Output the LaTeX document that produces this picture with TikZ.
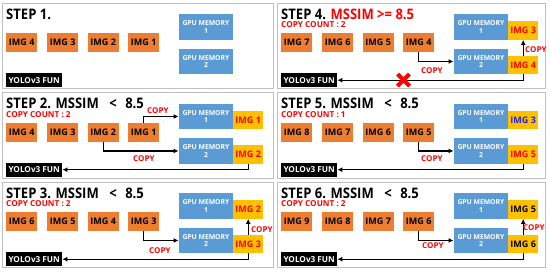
\documentclass[tikz,border=0pt]{standalone}
\usepackage{fontspec}
\setmainfont{Open Sans}
\newfontfamily\steptitlefont{Open Sans}[FakeStretch=0.9]
\usetikzlibrary{arrows.meta}
\definecolor{boxorange}{HTML}{ED7D31}
\definecolor{boxblue}{HTML}{5B9BD5}
\definecolor{boxyellow}{HTML}{FFC000}
\definecolor{txtred}{HTML}{FF0000}
\definecolor{txtblue}{HTML}{1F1FE0}
\definecolor{panelgray}{HTML}{BFBFBF}
\tikzset{
 panelframe/.style={draw=panelgray, line width=0.8pt},
 imgbox/.style={fill=boxorange, anchor=north west, minimum width=31pt, minimum height=19pt, inner sep=0pt, font=\fontsize{9}{10}\selectfont\bfseries},
 gpubox/.style={fill=boxblue, anchor=north west, minimum width=54.5pt, minimum height=25.5pt, inner sep=0pt, text=white, align=center, font=\fontsize{6.8}{7.6}\selectfont\bfseries},
 yelbox/.style={fill=boxyellow, anchor=north west, minimum width=30pt, minimum height=18.5pt, inner sep=0pt, font=\fontsize{9}{10}\selectfont\bfseries},
 yolonode/.style={fill=black, text=white, anchor=north west, minimum width=56pt, minimum height=14pt, inner sep=0pt, font=\fontsize{8.2}{9}\selectfont\bfseries},
 titletext/.style={anchor=base west, inner sep=0pt, font=\fontsize{14.5}{15}\steptitlefont\bfseries},
 counttext/.style={anchor=base west, inner sep=0pt, text=txtred, font=\fontsize{8.2}{9}\selectfont\bfseries},
 copytext/.style={anchor=base west, inner sep=0pt, text=txtred, font=\fontsize{8}{9}\selectfont\bfseries},
 flow/.style={line width=1.2pt, -{Latex[length=5pt,width=5pt]}},
 crossmark/.style={line width=4pt, draw=txtred},
}
\newcommand\lessgap{MSSIM\hspace{10.5pt}<\hspace{8.5pt}8.5}
% #1 prefix, #2-#5 labels
\newcommand\imgrow[5]{%
 \node[imgbox] (#1i1) at (4,30) {#2};
 \node[imgbox] (#1i2) at (45,30) {#3};
 \node[imgbox] (#1i3) at (85.5,30) {#4};
 \node[imgbox] (#1i4) at (126,30) {#5};
 \node[gpubox] (#1g1) at (176.5,11) {GPU MEMORY\\1};
 \node[gpubox] (#1g2) at (176.5,45.5) {GPU MEMORY\\2};
 \node[yolonode] (#1yolo) at (4,70) {YOLOv3 FUN};
}
% #1 prefix, #2 colour1, #3 label1, #4 colour2, #5 label2
\newcommand\yelpair[5]{%
 \node[yelbox, text=#2] (#1y1) at (231,18) {#3};
 \node[yelbox, text=#4] (#1y2) at (231,52.5) {#5};
}
\begin{document}
\begin{tikzpicture}[x=1pt,y=-1pt]
\path[fill=white] (0,0) rectangle (550,271);
\useasboundingbox (0,0) rectangle (550,271);

% ---------- STEP 1 ----------
\begin{scope}[shift={(2,3)}]
 \draw[panelframe] (0,0) rectangle (271,85.5);
 \node[titletext] (p1t) at (4,16) {STEP 1.};
 \imgrow{p1}{IMG 4}{IMG 3}{IMG 2}{IMG 1}
\end{scope}

% ---------- STEP 2 ----------
\begin{scope}[shift={(2,92.5)}]
 \draw[panelframe] (0,0) rectangle (271,85.5);
 \node[titletext] (p2t) at (4,16) {STEP 2. \lessgap};
 \node[counttext] (p2c) at (4,24.5) {COPY COUNT : 2};
 \imgrow{p2}{IMG 4}{IMG 3}{IMG 2}{IMG 1}
 \yelpair{p2}{txtred}{IMG 1}{txtred}{IMG 2}
 \draw[flow] (p2i4.north) |- (p2g1.west);
 \draw[flow] (p2i3.south) |- (p2g2.west);
 \draw[flow] (p2y2.south) |- (p2yolo.east);
 \node[copytext] (p2l1) at (145,20.5) {COPY};
 \node[copytext] (p2l2) at (131,68.5) {COPY};
\end{scope}

% ---------- STEP 3 ----------
\begin{scope}[shift={(2,182)}]
 \draw[panelframe] (0,0) rectangle (271,85.5);
 \node[titletext] (p3t) at (4,16) {STEP 3. \lessgap};
 \node[counttext] (p3c) at (4,24.5) {COPY COUNT : 2};
 \imgrow{p3}{IMG 6}{IMG 5}{IMG 4}{IMG 3}
 \yelpair{p3}{txtred}{IMG 2}{txtred}{IMG 3}
 \draw[flow] (p3i4.south) |- (p3g2.west);
 \draw[flow] (p3y2.north) -- (p3y1.south);
 \draw[flow] (p3y2.south) |- (p3yolo.east);
 \node[copytext] (p3l1) at (147,71) {COPY};
 \node[copytext] (p3l2) at (249,50) {COPY};
\end{scope}

% ---------- STEP 4 ----------
\begin{scope}[shift={(277,3)}]
 \draw[panelframe] (0,0) rectangle (268,85.5);
 \node[titletext] (p4t) at (4,16) {STEP 4. \textcolor{txtred}{MSSIM >= 8.5}};
 \node[counttext] (p4c) at (4,24.5) {COPY COUNT : 2};
 \imgrow{p4}{IMG 7}{IMG 6}{IMG 5}{IMG 4}
 \yelpair{p4}{txtred}{IMG 3}{txtred}{IMG 4}
 \draw[flow] (p4i4.south) |- (p4g2.west);
 \draw[flow] (p4y2.north) -- (p4y1.south);
 \draw[flow] (p4y2.south) |- (p4yolo.east);
 \node[copytext] (p4l1) at (144,70) {COPY};
 \node[copytext] (p4l2) at (248,49) {COPY};
 \coordinate (p4x) at (126.5,77);
 \draw[crossmark] ([shift={(-6,-6)}]p4x) -- ([shift={(6,6)}]p4x);
 \draw[crossmark] ([shift={(-6,6)}]p4x) -- ([shift={(6,-6)}]p4x);
\end{scope}

% ---------- STEP 5 ----------
\begin{scope}[shift={(277,92.5)}]
 \draw[panelframe] (0,0) rectangle (268,85.5);
 \node[titletext] (p5t) at (4,16) {STEP 5. \lessgap};
 \node[counttext] (p5c) at (4,24.5) {COPY COUNT : 1};
 \imgrow{p5}{IMG 8}{IMG 7}{IMG 6}{IMG 5}
 \yelpair{p5}{txtblue}{IMG 3}{txtred}{IMG 5}
 \draw[flow] (p5i4.south) |- (p5g2.west);
 \draw[flow] (p5y2.south) |- (p5yolo.east);
 \node[copytext] (p5l1) at (144,69) {COPY};
\end{scope}

% ---------- STEP 6 ----------
\begin{scope}[shift={(277,182)}]
 \draw[panelframe] (0,0) rectangle (268,85.5);
 \node[titletext] (p6t) at (4,16) {STEP 6. \lessgap};
 \node[counttext] (p6c) at (4,24.5) {COPY COUNT : 2};
 \imgrow{p6}{IMG 9}{IMG 8}{IMG 7}{IMG 6}
 \yelpair{p6}{black}{IMG 5}{black}{IMG 6}
 \draw[flow] (p6i4.south) |- (p6g2.west);
 \draw[flow] (p6y2.north) -- (p6y1.south);
 \draw[flow] (p6y2.south) |- (p6yolo.east);
 \node[copytext] (p6l1) at (145,66) {COPY};
 \node[copytext] (p6l2) at (246,48) {COPY};
\end{scope}
\end{tikzpicture}
\end{document}
